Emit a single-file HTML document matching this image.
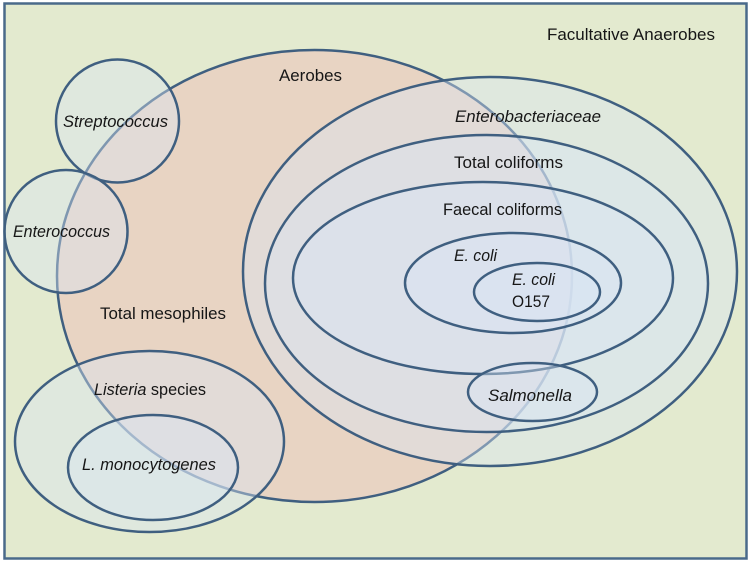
<!DOCTYPE html>
<html><head><meta charset="utf-8"><style>
html,body{margin:0;padding:0;background:#fff;}
svg{display:block;}
text{font-family:"Liberation Sans",sans-serif;font-size:16.5px;fill:#161616;}
.i{font-style:italic;}
</style></head><body>
<svg width="750" height="562" viewBox="0 0 750 562" xmlns="http://www.w3.org/2000/svg">
<rect x="0" y="0" width="750" height="562" fill="#ffffff"/>
<rect x="4.5" y="3.5" width="742" height="555" fill="#e3eacf" stroke="#4a6a8a" stroke-width="2.5"/>
<g stroke="#3f5f80" stroke-width="2.5">
<ellipse cx="314.5" cy="276" rx="257.5" ry="226" fill="#e8d4c3"/>
<g fill="rgba(216,228,244,0.42)">
<ellipse cx="490" cy="271.5" rx="247" ry="194.5"/>
<ellipse cx="486.5" cy="283.5" rx="221.5" ry="148.5"/>
<ellipse cx="483" cy="278" rx="190" ry="96"/>
<ellipse cx="513" cy="283" rx="108" ry="50"/>
<ellipse cx="537" cy="292" rx="63" ry="29"/>
<ellipse cx="532.5" cy="392" rx="64.5" ry="29"/>
<circle cx="117.5" cy="121" r="61.5"/>
<circle cx="66" cy="231.5" r="61.5"/>
<ellipse cx="149.5" cy="441.5" rx="134.5" ry="90.5"/>
<ellipse cx="153" cy="467.5" rx="85" ry="52.5"/>
</g>
</g>
<text x="547" y="40" textLength="168" lengthAdjust="spacingAndGlyphs">Facultative Anaerobes</text>
<text x="279" y="81" textLength="63" lengthAdjust="spacingAndGlyphs">Aerobes</text>
<text class="i" x="63" y="127" textLength="105" lengthAdjust="spacingAndGlyphs">Streptococcus</text>
<text class="i" x="13" y="237" textLength="97" lengthAdjust="spacingAndGlyphs">Enterococcus</text>
<text class="i" x="455" y="122" textLength="146" lengthAdjust="spacingAndGlyphs">Enterobacteriaceae</text>
<text x="454" y="168" textLength="109" lengthAdjust="spacingAndGlyphs">Total coliforms</text>
<text x="443" y="215" textLength="119" lengthAdjust="spacingAndGlyphs">Faecal coliforms</text>
<text class="i" x="454" y="261" textLength="43" lengthAdjust="spacingAndGlyphs">E. coli</text>
<text class="i" x="512" y="285" textLength="43" lengthAdjust="spacingAndGlyphs">E. coli</text>
<text x="512" y="307" textLength="38" lengthAdjust="spacingAndGlyphs">O157</text>
<text class="i" x="488" y="401" textLength="84" lengthAdjust="spacingAndGlyphs">Salmonella</text>
<text x="100" y="319" textLength="126" lengthAdjust="spacingAndGlyphs">Total mesophiles</text>
<text x="94" y="395" textLength="112" lengthAdjust="spacingAndGlyphs"><tspan class="i">Listeria</tspan> species</text>
<text class="i" x="82" y="470" textLength="134" lengthAdjust="spacingAndGlyphs">L. monocytogenes</text>
</svg>
</body></html>
